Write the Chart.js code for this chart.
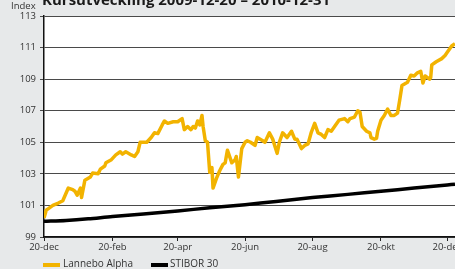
<!DOCTYPE html>
<html>
<head>
<meta charset="utf-8">
<script src="https://cdn.jsdelivr.net/npm/chart.js@4.4.1/dist/chart.umd.min.js"></script>
<style>
  html, body { margin: 0; padding: 0; background: #e7e9ea; overflow: hidden; }
  #wrap { position: relative; width: 455px; height: 269px; }
  #chart { position: absolute; left: 0; top: 0; }
  .lg { position: absolute; top: 256px; font: 10px "Open Sans", sans-serif; color: #333; white-space: nowrap; }
  .sw { position: absolute; width: 17px; height: 4px; top: 263px; }
</style>
</head>
<body>
<div id="wrap">
  <canvas id="chart" width="455" height="269"></canvas>
  <div class="sw" style="left:43px;background:#f2b300"></div>
  <div class="lg" style="left:63px">Lannebo Alpha</div>
  <div class="sw" style="left:151px;background:#000"></div>
  <div class="lg" style="left:170px">STIBOR 30</div>
</div>
<script>
// ---------- data (days since 2009-12-20) ----------
const alphaDays = [0,2,4,8,13,17,22,26,28,30,33,34,37,42,44,49,51,55,56,61,65,69,71,74,79,82,85,87,93,97,100,103,107,109,112,117,121,125,127,130,133,135,137,139,141,143,144,146,148,150,152,153,156,159,162,164,166,170,173,174,176,179,182,184,187,191,193,198,200,204,207,211,213,216,220,224,227,229,233,236,239,242,245,248,251,254,257,260,263,267,272,275,277,281,284,286,288,292,295,296,299,301,302,305,308,311,314,317,320,322,324,329,332,335,338,341,343,345,349,350,351,355,360,363,365,369,372];
const alphaValues = [100.2,100.7,100.8,101.0,101.15,101.3,102.1,102.0,101.9,101.65,102.1,101.5,102.6,102.8,103.05,103.0,103.3,103.5,103.7,103.9,104.2,104.4,104.25,104.4,104.2,104.1,104.4,105.0,105.0,105.3,105.6,105.55,106.1,106.35,106.2,106.3,106.3,106.5,105.8,106.0,105.8,106.0,105.9,106.35,106.1,106.7,106.0,105.1,105.0,103.1,103.4,102.1,102.7,103.2,103.6,103.7,104.5,103.7,103.9,104.1,102.8,104.6,105.0,105.1,105.0,104.8,105.3,105.1,105.0,105.6,105.2,104.3,105.0,105.6,105.3,105.7,105.2,105.2,104.6,104.8,104.9,105.65,106.2,105.6,105.5,105.3,105.8,105.7,106.0,106.4,106.5,106.3,106.5,106.6,107.0,106.9,106.0,105.7,105.6,105.3,105.2,105.25,105.7,106.4,106.7,107.1,106.7,106.7,106.85,107.7,108.6,108.8,109.25,109.2,109.4,109.5,108.75,109.2,109.0,109.1,109.9,110.1,110.3,110.5,110.7,111.1,111.25];

const stiborDays = [0, 20, 40, 62, 90, 121, 150, 182, 210, 243, 275, 305, 335, 365, 372];
const stiborValues = [100.0, 100.05, 100.15, 100.3, 100.45, 100.65, 100.85, 101.05, 101.25, 101.5, 101.7, 101.9, 102.1, 102.3, 102.35];

const tickDays = [0, 62, 121, 182, 243, 305, 365];
const tickLabels = ["20-dec", "20-feb", "20-apr", "20-jun", "20-aug", "20-okt", "20-dec"];
const yTicks = [99, 101, 103, 105, 107, 109, 111, 113];

const titleText = "Kursutveckling 2009-12-20 – 2010-12-31";
const axisFont = { family: "Open Sans", size: 9.5 };

/* ---------- plugins ---------- */
const plotBg = {
  id: "plotBg",
  beforeDraw(chart) {
    const { ctx, chartArea: a } = chart;
    ctx.save();
    ctx.fillStyle = "#ffffff";
    ctx.fillRect(a.left, a.top, a.right - a.left, a.bottom - a.top);
    ctx.restore();
  },
  afterDraw(chart) {
    const ctx = chart.ctx;
    ctx.save();
    ctx.fillStyle = "#333";
    ctx.font = "9.5px 'Open Sans'";
    ctx.textBaseline = "middle";
    ctx.fillText("Index", 11, 6);
    ctx.fillStyle = "#1a1a1a";
    ctx.font = "bold 15px 'Open Sans'";
    ctx.textBaseline = "alphabetic";
    ctx.fillText(titleText, 42, 5);
    ctx.restore();
  },
};

const ctx = document.getElementById("chart").getContext("2d");
new Chart(ctx, {
  type: "line",
  data: {
    datasets: [
      {
        label: "STIBOR 30",
        data: stiborDays.map((d, i) => ({ x: d, y: stiborValues[i] })),
        borderColor: "#000000",
        borderWidth: 3.5,
        pointRadius: 0,
        tension: 0.3,
      },
      {
        label: "Lannebo Alpha",
        data: alphaDays.map((d, i) => ({ x: d, y: alphaValues[i] })),
        borderColor: "#f2b300",
        borderWidth: 3.5,
        pointRadius: 0,
        tension: 0,
        borderJoinStyle: "round",
      },
    ],
  },
  options: {
    responsive: false,
    animation: false,
    layout: { padding: { top: 16, left: 0, right: 0, bottom: 12 } },
    plugins: { legend: { display: false }, tooltip: { enabled: false } },
    scales: {
      x: {
        type: "linear",
        min: 0,
        max: 372,
        afterBuildTicks: s => { s.ticks = tickDays.map(v => ({ value: v })); },
        afterFit: s => { s.height = 20; s.paddingLeft = 0; s.paddingRight = 0; },
        ticks: {
          autoSkip: false,
          maxRotation: 0,
          padding: 1,
          color: "#333",
          font: axisFont,
          callback: v => tickLabels[tickDays.indexOf(v)],
        },
        grid: { drawOnChartArea: false, tickLength: 4, color: "#222", lineWidth: 1 },
        border: { color: "#111", width: 1.5 },
      },
      y: {
        min: 99,
        max: 113,
        afterBuildTicks: s => { s.ticks = yTicks.map(v => ({ value: v })); },
        afterFit: s => { s.width = 44; s.paddingTop = 0; s.paddingBottom = 0; },
        ticks: { padding: 4, color: "#333", font: axisFont },
        grid: { color: "#4a4a4a", lineWidth: 1, tickLength: 4 },
        border: { color: "#111", width: 1.5 },
      },
    },
  },
  plugins: [plotBg],
});
</script>
</body>
</html>
